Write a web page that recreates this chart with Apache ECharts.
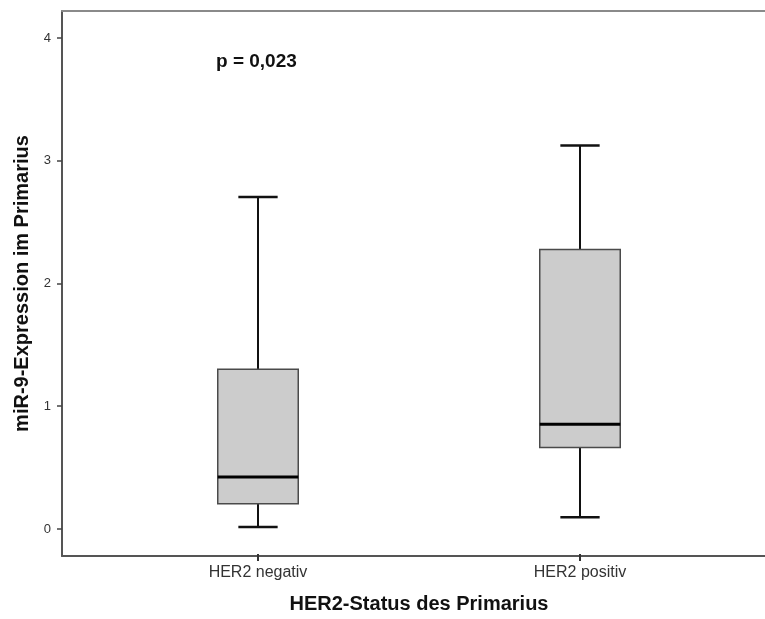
<!DOCTYPE html>
<html>
<head>
<meta charset="utf-8">
<script src="https://cdn.jsdelivr.net/npm/echarts@6/dist/echarts.min.js"></script>
<style>
  html, body { margin: 0; padding: 0; background: #fff; }
  #chart { width: 765px; height: 619px; }
</style>
</head>
<body>
<div id="chart"></div>
<script>
// Box plot: miR-9 expression in the primary tumour by HER2 status
const categories = ['HER2 negativ', 'HER2 positiv'];
const whiskerLow  = [0.00, 0.08];
const quartile1   = [0.19, 0.65];
const medians     = [0.41, 0.84];
const quartile3   = [1.29, 2.27];
const whiskerHigh = [2.70, 3.12];
const yTicks = [0, 1, 2, 3, 4];
const pText = 'p = 0,023';

const FONT = '"Liberation Sans", Arial, sans-serif';
const yMin = -0.22, yMax = 4.22;

const boxData = categories.map((c, i) => [i, whiskerLow[i], quartile1[i], medians[i], quartile3[i], whiskerHigh[i]]);

function renderBox(params, api) {
  const idx = api.value(0);
  const pLow = api.coord([idx, api.value(1)]);
  const pQ1 = api.coord([idx, api.value(2)]);
  const pMed = api.coord([idx, api.value(3)]);
  const pQ3 = api.coord([idx, api.value(4)]);
  const pHigh = api.coord([idx, api.value(5)]);
  const band = api.size([1, 0])[0];
  const half = band * 0.125;
  const cap = band * 0.061;
  const cx = pMed[0];
  const whisk = { stroke: '#111', lineWidth: 2 };
  return {
    type: 'group',
    children: [
      { type: 'line', shape: { x1: cx, y1: pHigh[1], x2: cx, y2: pQ3[1] }, style: whisk },
      { type: 'line', shape: { x1: cx, y1: pQ1[1], x2: cx, y2: pLow[1] }, style: whisk },
      { type: 'line', shape: { x1: cx - cap, y1: pHigh[1], x2: cx + cap, y2: pHigh[1] }, style: { stroke: '#111', lineWidth: 2.5 } },
      { type: 'line', shape: { x1: cx - cap, y1: pLow[1], x2: cx + cap, y2: pLow[1] }, style: { stroke: '#111', lineWidth: 2.5 } },
      { type: 'rect', shape: { x: cx - half, y: pQ3[1], width: half * 2, height: pQ1[1] - pQ3[1] },
        style: { fill: '#cccccc', stroke: '#4a4a4a', lineWidth: 1.5 } },
      { type: 'line', shape: { x1: cx - half, y1: pMed[1], x2: cx + half, y2: pMed[1] }, style: { stroke: '#000', lineWidth: 3 } }
    ]
  };
}

const chart = echarts.init(document.getElementById('chart'), null, { renderer: 'canvas' });
chart.setOption({
  backgroundColor: '#ffffff',
  animation: false,
  title: {
    text: pText,
    left: 211, top: 47,
    textStyle: { fontFamily: FONT, fontSize: 19, fontWeight: 'bold', color: '#111' }
  },
  grid: [
    { left: 62, right: -30, top: 11, bottom: 63 },
    { left: 97, width: 644, top: 11, bottom: 63 }
  ],
  xAxis: [
    { gridIndex: 0, type: 'value', position: 'bottom', min: 0, max: 1,
      axisLine: { show: true, onZero: false, lineStyle: { color: '#555', width: 2 } },
      axisTick: { show: false }, axisLabel: { show: false }, splitLine: { show: false } },
    { gridIndex: 0, type: 'value', position: 'top', min: 0, max: 1,
      axisLine: { show: true, onZero: false, lineStyle: { color: '#8a8a8a', width: 2 } },
      axisTick: { show: false }, axisLabel: { show: false }, splitLine: { show: false } },
    { gridIndex: 1, type: 'category', data: categories, position: 'bottom',
      name: 'HER2-Status des Primarius', nameLocation: 'middle', nameGap: 40,
      nameTextStyle: { fontFamily: FONT, fontSize: 20, fontWeight: 'bold', color: '#111' },
      axisLine: { show: false, onZero: false },
      axisTick: { show: true, inside: false, alignWithLabel: true, length: 7, lineStyle: { color: '#333', width: 2 } },
      axisLabel: { margin: 11, fontFamily: FONT, fontSize: 16, color: '#333' },
      splitLine: { show: false } }
  ],
  yAxis: [
    { gridIndex: 0, type: 'value', min: yMin, max: yMax,
      name: 'miR-9-Expression im Primarius', nameLocation: 'middle', nameGap: 28,
      nameTextStyle: { fontFamily: FONT, fontSize: 20, fontWeight: 'bold', color: '#111' },
      axisLine: { show: true, onZero: false, lineStyle: { color: '#555', width: 2 } },
      axisTick: { show: true, length: 5, customValues: yTicks, lineStyle: { color: '#444', width: 1.5 } },
      axisLabel: { margin: 11, customValues: yTicks, fontFamily: FONT, fontSize: 13, color: '#333' },
      splitLine: { show: false } },
    { gridIndex: 1, type: 'value', min: yMin, max: yMax, show: false,
      axisLine: { onZero: false }, splitLine: { show: false } }
  ],
  series: [{
    type: 'custom',
    xAxisIndex: 2,
    yAxisIndex: 1,
    renderItem: renderBox,
    encode: { x: 0, y: [1, 2, 3, 4, 5] },
    data: boxData
  }]
});
</script>
</body>
</html>
